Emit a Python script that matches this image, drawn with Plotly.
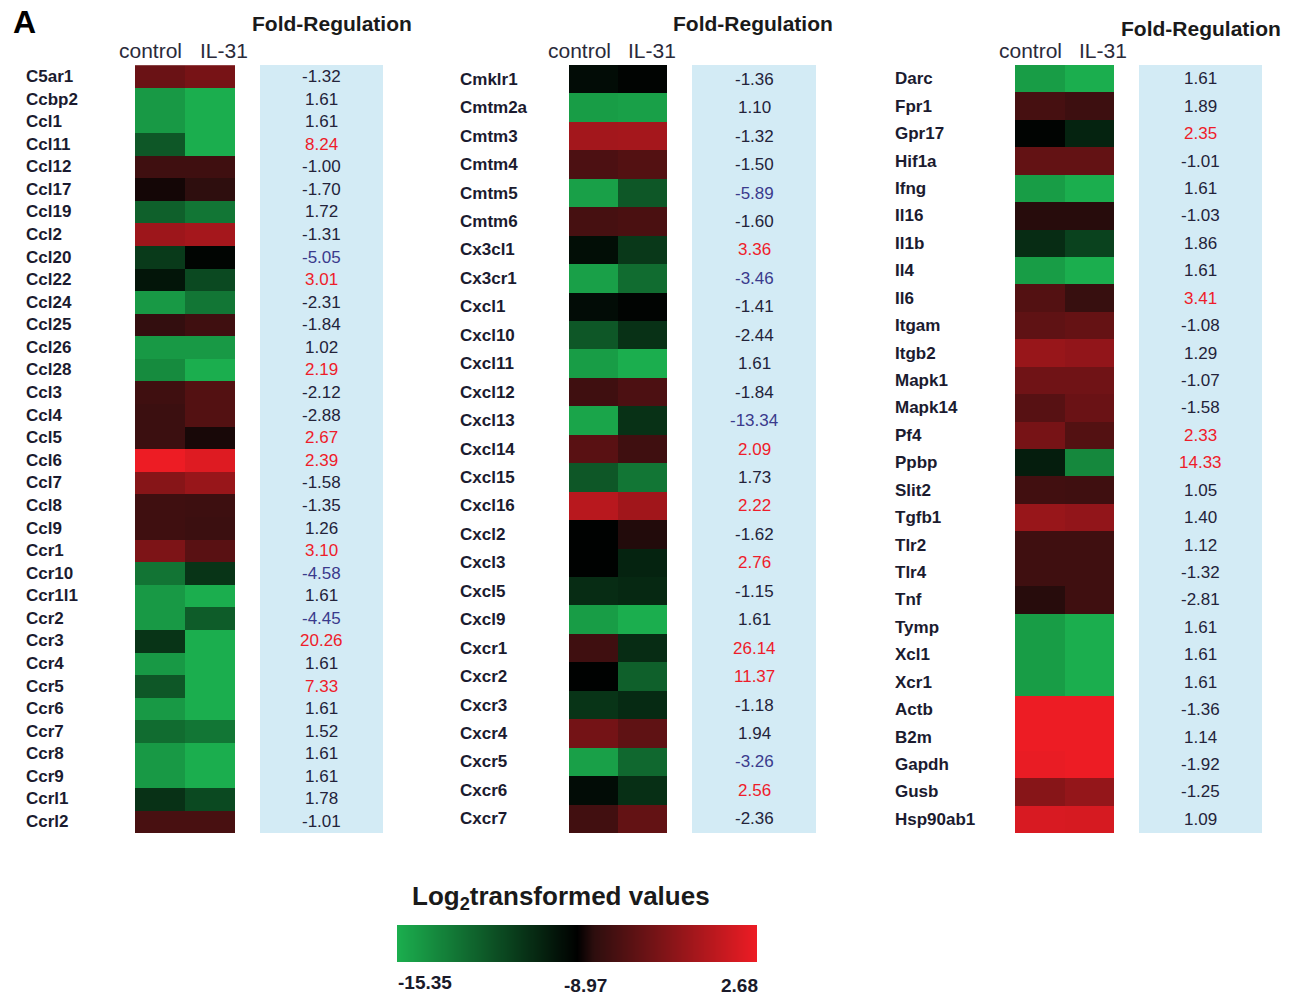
import numpy as np
import plotly.graph_objects as go

W, H = 1296, 996

# ---------------- data ----------------
genes1 = ["C5ar1", "Ccbp2", "Ccl1", "Ccl11", "Ccl12", "Ccl17", "Ccl19", "Ccl2", "Ccl20", "Ccl22",
          "Ccl24", "Ccl25", "Ccl26", "Ccl28", "Ccl3", "Ccl4", "Ccl5", "Ccl6", "Ccl7", "Ccl8",
          "Ccl9", "Ccr1", "Ccr10", "Ccr1l1", "Ccr2", "Ccr3", "Ccr4", "Ccr5", "Ccr6", "Ccr7",
          "Ccr8", "Ccr9", "Ccrl1", "Ccrl2"]
control1 = [-4.54, -14.58, -14.58, -12.16, -6.87, -8.50, -12.48, -1.75, -11.08, -9.74,
            -14.58, -7.57, -14.58, -14.07, -6.87, -7.11, -7.11, 2.68, -2.91, -6.87,
            -6.87, -3.49, -13.24, -14.58, -14.58, -10.88, -14.58, -12.16, -14.58, -12.93,
            -14.58, -14.58, -10.76, -6.41]
il31_1 = [-3.84, -15.35, -15.35, -15.35, -6.87, -7.81, -13.31, -1.28, -9.16, -11.65,
          -13.31, -6.87, -14.58, -15.35, -5.82, -5.82, -8.39, 1.86, -1.98, -6.99,
          -7.11, -5.48, -10.88, -15.35, -12.35, -15.35, -15.35, -15.35, -15.35, -13.31,
          -15.35, -15.35, -11.65, -6.41]
fold1 = [-1.32, 1.61, 1.61, 8.24, -1.00, -1.70, 1.72, -1.31, -5.05, 3.01,
         -2.31, -1.84, 1.02, 2.19, -2.12, -2.88, 2.67, 2.39, -1.58, -1.35,
         1.26, 3.10, -4.58, 1.61, -4.45, 20.26, 1.61, 7.33, 1.61, 1.52,
         1.61, 1.61, 1.78, -1.01]

genes2 = ["Cmklr1", "Cmtm2a", "Cmtm3", "Cmtm4", "Cmtm5", "Cmtm6", "Cx3cl1", "Cx3cr1", "Cxcl1",
          "Cxcl10", "Cxcl11", "Cxcl12", "Cxcl13", "Cxcl14", "Cxcl15", "Cxcl16", "Cxcl2", "Cxcl3",
          "Cxcl5", "Cxcl9", "Cxcr1", "Cxcr2", "Cxcr3", "Cxcr4", "Cxcr5", "Cxcr6", "Cxcr7"]
control2 = [-9.42, -14.71, -1.40, -6.17, -14.84, -6.52, -9.48, -14.84, -9.42,
            -12.16, -14.71, -6.87, -15.03, -5.48, -12.16, -0.23, -9.04, -9.04,
            -10.57, -14.71, -6.87, -9.04, -10.88, -3.96, -14.84, -9.42, -6.76]
il31_2 = [-9.10, -14.84, -1.28, -5.82, -12.16, -6.29, -11.01, -12.93, -9.10,
          -10.76, -15.35, -6.17, -10.76, -6.87, -13.31, -1.51, -8.15, -10.25,
          -10.44, -15.35, -10.57, -12.48, -10.50, -5.13, -12.80, -10.69, -4.89]
fold2 = [-1.36, 1.10, -1.32, -1.50, -5.89, -1.60, 3.36, -3.46, -1.41,
         -2.44, 1.61, -1.84, -13.34, 2.09, 1.73, 2.22, -1.62, 2.76,
         -1.15, 1.61, 26.14, 11.37, -1.18, 1.94, -3.26, 2.56, -2.36]

genes3 = ["Darc", "Fpr1", "Gpr17", "Hif1a", "Ifng", "Il16", "Il1b", "Il4", "Il6", "Itgam",
          "Itgb2", "Mapk1", "Mapk14", "Pf4", "Ppbp", "Slit2", "Tgfb1", "Tlr2", "Tlr4", "Tnf",
          "Tymp", "Xcl1", "Xcr1", "Actb", "B2m", "Gapdh", "Gusb", "Hsp90ab1"]
control3 = [-14.71, -6.52, -9.10, -4.89, -14.71, -8.04, -10.57, -14.71, -5.82, -5.13,
            -1.98, -4.19, -5.59, -3.84, -10.05, -6.76, -1.98, -6.87, -6.87, -8.04,
            -14.71, -14.71, -14.71, 2.68, 2.68, 2.45, -2.91, 1.52]
il31_3 = [-15.35, -6.99, -10.25, -4.89, -15.35, -8.04, -11.39, -15.35, -7.34, -4.78,
          -2.33, -4.19, -4.54, -5.82, -13.95, -6.87, -2.33, -6.87, -6.87, -6.87,
          -15.35, -15.35, -15.35, 2.68, 2.68, 2.68, -2.21, 1.40]
fold3 = [1.61, 1.89, 2.35, -1.01, 1.61, -1.03, 1.86, 1.61, 3.41, -1.08,
         1.29, -1.07, -1.58, 2.33, 14.33, 1.05, 1.40, 1.12, -1.32, -2.81,
         1.61, 1.61, 1.61, -1.36, 1.14, -1.92, -1.25, 1.09]

samples = ["control", "IL-31"]
scale_min, scale_mid, scale_max = -15.35, -8.97, 2.68
scale_labels = ["-15.35", "-8.97", "2.68"]

# ---------------- style ----------------
GREEN = "rgb(27,174,78)"
RED = "rgb(237,28,36)"
mid_pos = (scale_mid - scale_min) / (scale_max - scale_min)
colorscale = [[0, GREEN], [mid_pos, "rgb(0,0,0)"],
              [mid_pos + 0.06, "rgb(45,14,14)"], [1, RED]]
FONT = "Arial, Liberation Sans, sans-serif"
LABEL_COL = "#1b1b2f"
NUM_COL = "#23233a"
BLUE_COL = "#3a3a8c"
RED_COL = "#ee1c2a"
BOX_COL = "#d3ebf5"

def px(x):
    return x / W

def py(y):
    return 1 - y / H

panels = [
    dict(genes=genes1, ctrl=control1, il=il31_1, fold=fold1,
         hm=(135, 235), box=(260, 383), lab_x=24, num_x=321, fr_x=332, fr_y=24,
         ctl_x=150, il_x=224, hdr_y=51),
    dict(genes=genes2, ctrl=control2, il=il31_2, fold=fold2,
         hm=(569, 667), box=(692, 816), lab_x=458, num_x=754, fr_x=753, fr_y=24,
         ctl_x=579, il_x=652, hdr_y=51),
    dict(genes=genes3, ctrl=control3, il=il31_3, fold=fold3,
         hm=(1015, 1114), box=(1139, 1262), lab_x=893, num_x=1200, fr_x=1201, fr_y=28,
         ctl_x=1030, il_x=1103, hdr_y=51),
]
TOP, BOT = 65, 833

fig = go.Figure()
annotations = []
shapes = []
layout_axes = {}

for k, p in enumerate(panels, start=1):
    z = [[c, i] for c, i in zip(p["ctrl"], p["il"])]
    fig.add_trace(go.Heatmap(
        z=z, x=samples, y=p["genes"], xaxis=f"x{k}", yaxis=f"y{k}",
        colorscale=colorscale, zmin=scale_min, zmax=scale_max, showscale=False,
        hovertemplate="%{y} %{x}: %{z}<extra></extra>"))
    layout_axes[f"xaxis{k}"] = dict(domain=[px(p["hm"][0]), px(p["hm"][1])], visible=False,
                                    anchor=f"y{k}", fixedrange=True)
    layout_axes[f"yaxis{k}"] = dict(domain=[py(BOT), py(TOP)], visible=False,
                                    anchor=f"x{k}", autorange="reversed", type="category",
                                    fixedrange=True)
    shapes.append(dict(type="rect", xref="paper", yref="paper",
                       x0=px(p["box"][0]), x1=px(p["box"][1]), y0=py(BOT), y1=py(TOP),
                       fillcolor=BOX_COL, line=dict(width=0), layer="below"))
    for g, f in zip(p["genes"], p["fold"]):
        annotations.append(dict(x=px(p["lab_x"]), xref="paper", y=g, yref=f"y{k}",
                                text=g, showarrow=False, xanchor="left", yanchor="middle",
                                font=dict(family=FONT, size=17, color=LABEL_COL, weight="bold")))
        col = RED_COL if f >= 2 else (BLUE_COL if f <= -3 else NUM_COL)
        annotations.append(dict(x=px(p["num_x"]), xref="paper", y=g, yref=f"y{k}",
                                text=f"{f:.2f}", showarrow=False, xanchor="center",
                                yanchor="middle",
                                font=dict(family=FONT, size=17, color=col)))
    annotations.append(dict(x=px(p["fr_x"]), y=py(p["fr_y"]), xref="paper", yref="paper",
                            text="Fold-Regulation", showarrow=False, xanchor="center",
                            yanchor="middle",
                            font=dict(family=FONT, size=21, color="#1a1a1a", weight="bold")))
    annotations.append(dict(x=px(p["ctl_x"]), y=py(p["hdr_y"]), xref="paper", yref="paper",
                            text="control", showarrow=False, xanchor="center", yanchor="middle",
                            font=dict(family=FONT, size=21, color="#2a2a3a")))
    annotations.append(dict(x=px(p["il_x"]), y=py(p["hdr_y"]), xref="paper", yref="paper",
                            text="IL-31", showarrow=False, xanchor="center", yanchor="middle",
                            font=dict(family=FONT, size=21, color="#2a2a3a")))

# panel letter
annotations.append(dict(x=px(11), y=py(22), xref="paper", yref="paper", text="A",
                        showarrow=False, xanchor="left", yanchor="middle",
                        font=dict(family=FONT, size=32, color="#000", weight="bold")))

# ---------------- colour legend (gradient strip) ----------------
n = 180
grad = np.concatenate([np.linspace(scale_min, scale_mid, n, endpoint=False),
                       np.linspace(scale_mid, scale_max, n)])
legend_cs = [[0, GREEN], [0.5, "rgb(0,0,0)"], [1, RED]]
legend_pos = np.linspace(0, 1, 2 * n)
fig.add_trace(go.Heatmap(z=[grad], xaxis="x4", yaxis="y4", colorscale=colorscale,
                         zmin=scale_min, zmax=scale_max, showscale=False, hoverinfo="skip"))
layout_axes["xaxis4"] = dict(domain=[px(397), px(757)], visible=False, anchor="y4",
                             fixedrange=True)
layout_axes["yaxis4"] = dict(domain=[py(962), py(925)], visible=False, anchor="x4",
                             fixedrange=True)
annotations.append(dict(x=px(561), y=py(897), xref="paper", yref="paper",
                        text="Log<sub>2</sub>transformed values", showarrow=False,
                        xanchor="center", yanchor="middle",
                        font=dict(family=FONT, size=26, color="#1a1a1a", weight="bold")))
for lab, xx, yy in zip(scale_labels, [425, 585, 739], [982, 985, 985]):
    annotations.append(dict(x=px(xx), y=py(yy), xref="paper", yref="paper", text=lab,
                            showarrow=False, xanchor="center", yanchor="middle",
                            font=dict(family=FONT, size=19, color="#1a1a2a", weight="bold")))

fig.update_layout(
    width=W, height=H, margin=dict(l=0, r=0, t=0, b=0),
    paper_bgcolor="white", plot_bgcolor="white",
    annotations=annotations, shapes=shapes, **layout_axes,
)

fig.write_html("out.html", config={"displayModeBar": False},
               post_script="document.body.style.margin='0';document.body.style.overflow='hidden';")
